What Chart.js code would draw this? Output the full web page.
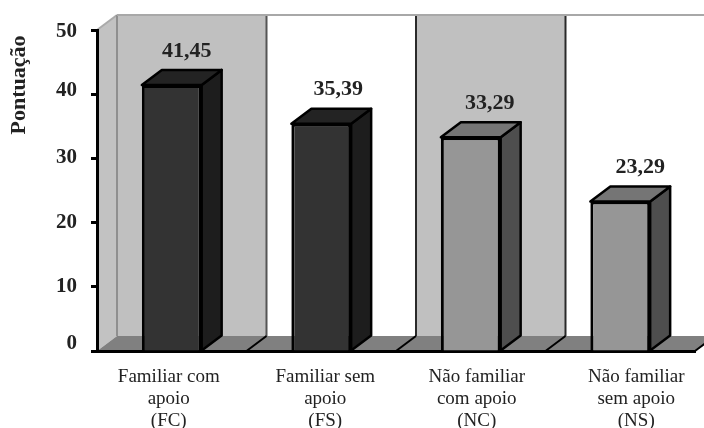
<!DOCTYPE html>
<html lang="pt">
<head>
<meta charset="utf-8">
<title>Pontuação por grupo</title>
<style>
  html, body { margin: 0; padding: 0; background: #fff; }
  canvas { display: block; }
</style>
<script src="https://cdn.jsdelivr.net/npm/chart.js@4/dist/chart.umd.min.js"></script>
</head>
<body>
<canvas id="chart" width="704" height="428"></canvas>
<script>
// Chart data
const categories = [
  ['Familiar com', 'apoio', '(FC)'],
  ['Familiar sem', 'apoio', '(FS)'],
  ['Não familiar', 'com apoio', '(NC)'],
  ['Não familiar', 'sem apoio', '(NS)']
];
const scores = [41.45, 35.39, 33.29, 23.29];
const axisTitle = 'Pontuação';

// Face colours of each column: front, side, top
const frontColors = ['#333333', '#333333', '#969696', '#969696'];
const sideColors = ['#1d1d1d', '#1d1d1d', '#4e4e4e', '#4e4e4e'];
const topColors = ['#232323', '#232323', '#757575', '#757575'];

// Oblique projection used for the extruded look
const DEPTH_X = 20;
const DEPTH_Y = 15;
const SERIF = '"Liberation Serif", "Times New Roman", serif';

// Hand placement of the axis and value labels
const xLabelNudge = [-3, 4, 6, 16];
const yLabelNudge = [-7, 0, 0, -1, -4, 2];
const valueLabelNudge = [15, 17, 19, 20];

function polygon(ctx, pts, fill, stroke, width) {
  ctx.beginPath();
  pts.forEach((p, i) => (i ? ctx.lineTo(p[0], p[1]) : ctx.moveTo(p[0], p[1])));
  ctx.closePath();
  if (fill) { ctx.fillStyle = fill; ctx.fill(); }
  if (stroke) {
    ctx.strokeStyle = stroke;
    ctx.lineWidth = width;
    ctx.lineJoin = 'round';
    ctx.stroke();
  }
}

function segment(ctx, x0, y0, x1, y1, color, width) {
  ctx.beginPath();
  ctx.moveTo(x0, y0);
  ctx.lineTo(x1, y1);
  ctx.strokeStyle = color;
  ctx.lineWidth = width;
  ctx.stroke();
}

// Shift the tick labels the scales have laid out
const labelPlacement = {
  id: 'labelPlacement',
  beforeDraw(chart) {
    chart.scales.x.getLabelItems().forEach((item, i) => {
      if (!item.nudged) { item.options.translation[0] += xLabelNudge[i]; item.nudged = true; }
    });
    chart.scales.y.getLabelItems().forEach((item, i) => {
      if (!item.nudged) { item.options.translation[1] += yLabelNudge[i]; item.nudged = true; }
    });
  }
};

// Side wall, striped back wall and floor behind the columns
const room = {
  id: 'room',
  beforeDraw(chart) {
    const { ctx, scales: { x, y } } = chart;
    const left = x.left, right = x.right;
    const base = y.getPixelForValue(0);
    const top = y.getPixelForValue(y.max);
    const step = (right - left) / categories.length;
    ctx.save();

    polygon(ctx, [[left, top], [left + DEPTH_X, top - DEPTH_Y],
      [left + DEPTH_X, base - DEPTH_Y], [left, base]], '#c2c2c2');
    segment(ctx, left, top, left + DEPTH_X, top - DEPTH_Y, '#aaaaaa', 2);

    categories.forEach((_, i) => {
      const x0 = left + i * step + DEPTH_X;
      if (i % 2 === 0) {
        ctx.fillStyle = '#c0c0c0';
        ctx.fillRect(x0, top - DEPTH_Y, step, base - top);
        const edge = i === 0 ? '#8f8f8f' : '#2a2a2a';
        segment(ctx, x0, top - DEPTH_Y, x0, base - DEPTH_Y, edge, 2);
        segment(ctx, x0 + step, top - DEPTH_Y, x0 + step, base - DEPTH_Y, i === 0 ? '#555555' : '#2a2a2a', 2);
      }
    });
    segment(ctx, left + DEPTH_X, top - DEPTH_Y, chart.width, top - DEPTH_Y, '#a8a8a8', 2);

    polygon(ctx, [[left, base], [left + DEPTH_X, base - DEPTH_Y],
      [right + DEPTH_X, base - DEPTH_Y], [right, base]], '#808080');
    for (let i = 1; i <= categories.length; i++) {
      const xb = left + i * step;
      segment(ctx, xb, base, xb + DEPTH_X, base - DEPTH_Y, '#000000', 2);
    }
    ctx.restore();
  }
};

// Top and side faces of each column, plus its value label
const columns = {
  id: 'columns',
  afterDatasetsDraw(chart) {
    const { ctx } = chart;
    ctx.save();
    chart.getDatasetMeta(0).data.forEach((bar, i) => {
      const xl = bar.x - bar.width / 2;
      const xr = bar.x + bar.width / 2;
      const yt = bar.y;
      const yb = bar.base;
      polygon(ctx, [[xr, yt], [xr + DEPTH_X, yt - DEPTH_Y], [xr + DEPTH_X, yb - DEPTH_Y], [xr, yb]],
        sideColors[i], '#000000', 2.5);
      polygon(ctx, [[xl, yt], [xl + DEPTH_X, yt - DEPTH_Y], [xr + DEPTH_X, yt - DEPTH_Y], [xr, yt]],
        topColors[i], '#000000', 2.5);

      ctx.fillStyle = '#222222';
      ctx.font = 'bold 22px ' + SERIF;
      ctx.textAlign = 'center';
      ctx.textBaseline = 'middle';
      ctx.fillText(scores[i].toFixed(2).replace('.', ','), bar.x + valueLabelNudge[i], yt - 34);
    });
    ctx.restore();
  }
};

new Chart(document.getElementById('chart'), {
  type: 'bar',
  data: {
    labels: categories,
    datasets: [{
      data: scores,
      backgroundColor: frontColors,
      borderColor: '#000000',
      borderWidth: 3,
      barPercentage: 0.4,
      categoryPercentage: 1
    }]
  },
  options: {
    responsive: false,
    animation: false,
    layout: { padding: { top: 30, right: 9, left: 0, bottom: 0 } },
    plugins: { legend: { display: false }, tooltip: { enabled: false } },
    scales: {
      x: {
        grid: { display: false },
        border: { color: '#000000', width: 3 },
        ticks: {
          color: '#222222',
          padding: 7,
          maxRotation: 0,
          autoSkip: false,
          font: { family: SERIF, size: 19, lineHeight: 1.16 }
        },
        afterFit(scale) { scale.height = 77; }
      },
      y: {
        min: 0,
        max: 50,
        grid: { drawOnChartArea: false, tickLength: 6, tickColor: '#000000', tickWidth: 3 },
        border: { color: '#000000', width: 3 },
        ticks: {
          stepSize: 10,
          color: '#222222',
          padding: 14,
          font: { family: SERIF, size: 21, weight: 'bold' }
        },
        title: {
          display: true,
          text: axisTitle + '\u00a0',
          align: 'end',
          color: '#222222',
          padding: { top: 6, bottom: 0 },
          font: { family: SERIF, size: 22, weight: 'bold' }
        },
        afterFit(scale) { scale.width = 97; }
      }
    }
  },
  plugins: [labelPlacement, room, columns]
});
</script>
</body>
</html>
